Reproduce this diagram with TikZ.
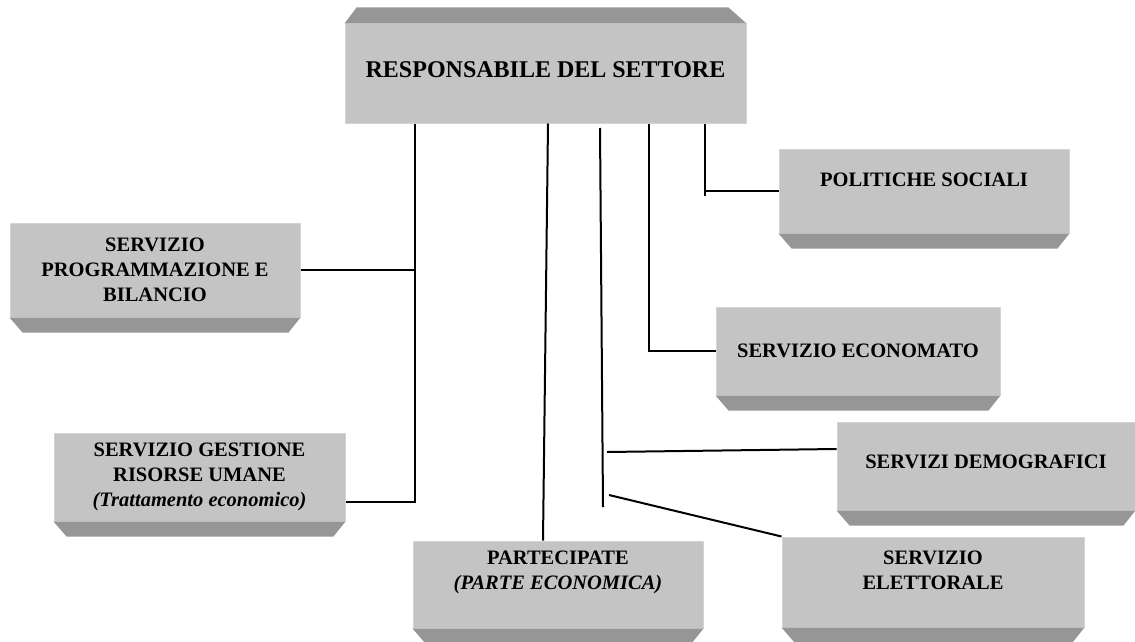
\documentclass[tikz,border=0pt]{standalone}
\usepackage{fontspec}
\setmainfont{Liberation Serif}
\definecolor{facegray}{RGB}{196,196,196}
\definecolor{bevelgray}{RGB}{150,150,150}
\definecolor{rimgray}{RGB}{212,212,212}
\tikzset{
  face/.style={fill=facegray, draw=rimgray, line width=1pt, inner sep=0pt},
  lbl/.style={font=\fontsize{20.5}{25}\selectfont\bfseries, align=center},
  link/.style={line width=2pt, black}
}
\begin{document}
\begin{tikzpicture}[x=1pt,y=-1pt]
    \useasboundingbox (0,0) rectangle (1135,642);

    % boxes
    \node[face, minimum width=401, minimum height=99] (main) at (545.5,73.5) {};
    \node[face, minimum width=290, minimum height=84] (pol) at (924,191) {};
    \node[face, minimum width=284, minimum height=88] (eco) at (858,351) {};
    \node[face, minimum width=290, minimum height=94] (prog) at (155,270) {};
    \node[face, minimum width=291, minimum height=88] (gest) at (199.5,477) {};
    \node[face, minimum width=290, minimum height=87] (part) at (558,584.5) {};
    \node[face, minimum width=298, minimum height=88] (demo) at (986,466) {};
    \node[face, minimum width=302, minimum height=90] (elet) at (933,582) {};

    % bevels
    \fill[bevelgray] (main.north west) -- ([shift={(12,-16)}]main.north west)
        -- ([shift={(-18,-16)}]main.north east) -- (main.north east) -- cycle;
    \foreach \b in {pol,eco,prog,gest,part,demo,elet}
        \fill[bevelgray] (\b.south west) -- ([shift={(13,15)}]\b.south west)
            -- ([shift={(-12,15)}]\b.south east) -- (\b.south east) -- cycle;

    % texts
    \node[lbl, font=\fontsize{24}{28}\selectfont\bfseries] (main-t) at ([yshift=4]main.center) {RESPONSABILE DEL SETTORE};
    \node[lbl] (pol-t) at ([yshift=11]pol.center) {POLITICHE SOCIALI};
    \node[lbl] (eco-t) at (eco.center) {SERVIZIO ECONOMATO};
    \node[lbl] (prog-t) at (prog.center) {SERVIZIO\\PROGRAMMAZIONE E\\BILANCIO};
    \node[lbl] (gest-t) at (gest.center) {SERVIZIO GESTIONE\\RISORSE UMANE\\\textit{(Trattamento economico)}};
    \node[lbl] (part-t) at ([yshift=12]part.center) {PARTECIPATE\\\textit{(PARTE ECONOMICA)}};
    \node[lbl] (demo-t) at ([yshift=4]demo.center) {SERVIZI DEMOGRAFICI};
    \node[lbl] (elet-t) at ([yshift=12]elet.center) {SERVIZIO\\ELETTORALE};

    % connectors
    \coordinate (jA) at (415,502);
    \draw[link] (main.south -| jA) -- (jA) -- (jA -| gest.east);
    \draw[link] (prog.east) -- (prog.east -| jA);

    \draw[link] ([xshift=2.5]main.south) -- ([xshift=-15]part.north);

    \coordinate (cTop) at (600,128);
    \coordinate (cBot) at (603,507);
    \draw[link] (cTop) -- (cBot);
    \coordinate (dL) at (607,452);
    \draw[link] (dL) -- ([yshift=17]demo.west);
    \coordinate (eL) at (609,495);
    \draw[link] (eL) -- (elet.north west);

    \coordinate (jD) at (649,352);
    \draw[link] (main.south -| jD) |- (eco.west);

    \coordinate (jE) at (705,196);
    \draw[link] (main.south -| jE) -- (jE);
    \draw[link] (jE |- pol.west) -- (pol.west);
\end{tikzpicture}
\end{document}
